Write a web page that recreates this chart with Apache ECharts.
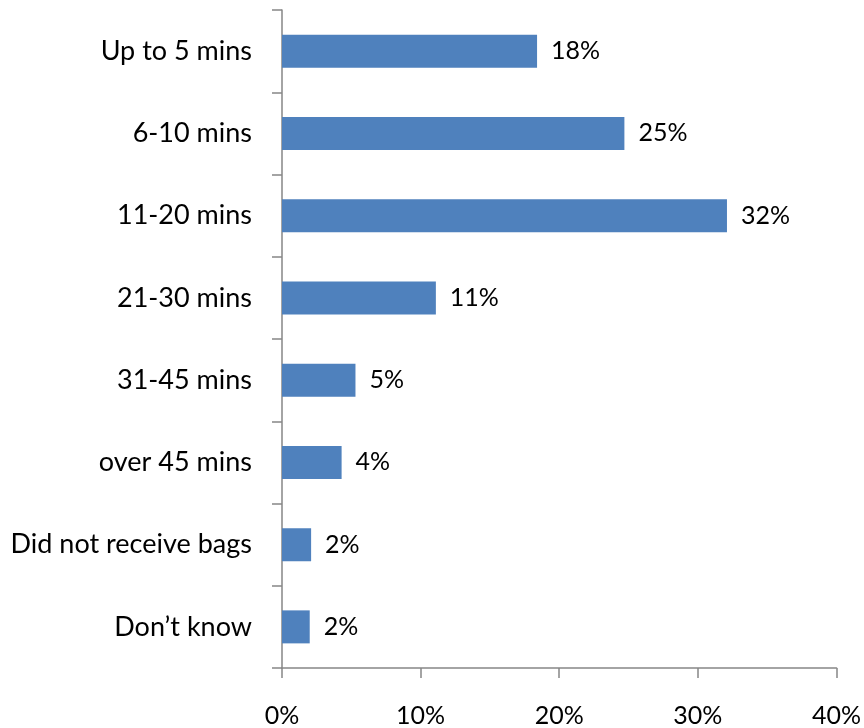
<!DOCTYPE html>
<html><head><meta charset="utf-8">
<script src="https://cdn.jsdelivr.net/npm/echarts@6/dist/echarts.min.js"></script>
<style>html,body{margin:0;padding:0;background:#fff}#c{width:864px;height:728px}</style>
</head><body><div id="c"></div>
<script>
const categories = ["Up to 5 mins","6-10 mins","11-20 mins","21-30 mins","31-45 mins","over 45 mins","Did not receive bags","Don\u2019t know"];
const values = [18.4, 24.7, 32.1, 11.1, 5.3, 4.3, 2.1, 2.0];
const valueLabels = ["18%","25%","32%","11%","5%","4%","2%","2%"];
const xTicks = [0, 10, 20, 30, 40];
const font = "Lato, 'Open Sans', sans-serif";
const chart = echarts.init(document.getElementById('c'));
chart.setOption({
  animation: false,
  grid: {left: 282, right: 27, top: 10, bottom: 60, containLabel: false},
  xAxis: {
    type: 'value', min: xTicks[0], max: xTicks[xTicks.length-1], interval: 10,
    axisLine: {show: true, lineStyle: {color: '#868686', width: 1.5}},
    axisTick: {show: true, length: 10, lineStyle: {color: '#868686', width: 1.5}},
    splitLine: {show: false},
    axisLabel: {formatter: v => v + '%', color: '#000', fontSize: 25, fontFamily: font, margin: 35}
  },
  yAxis: {
    type: 'category', data: categories, inverse: true,
    axisLine: {show: true, lineStyle: {color: '#868686', width: 1.5}},
    axisTick: {show: true, length: 10, alignWithLabel: false, lineStyle: {color: '#868686', width: 1.5}},
    axisLabel: {color: '#000', fontSize: 27, fontFamily: font, margin: 30}
  },
  series: [{
    type: 'bar', data: values, barWidth: 33,
    itemStyle: {color: '#4F81BD'},
    label: {show: true, position: 'right', distance: 14, color: '#000', fontSize: 25, fontFamily: font,
      formatter: p => valueLabels[p.dataIndex]}
  }]
});
</script></body></html>
